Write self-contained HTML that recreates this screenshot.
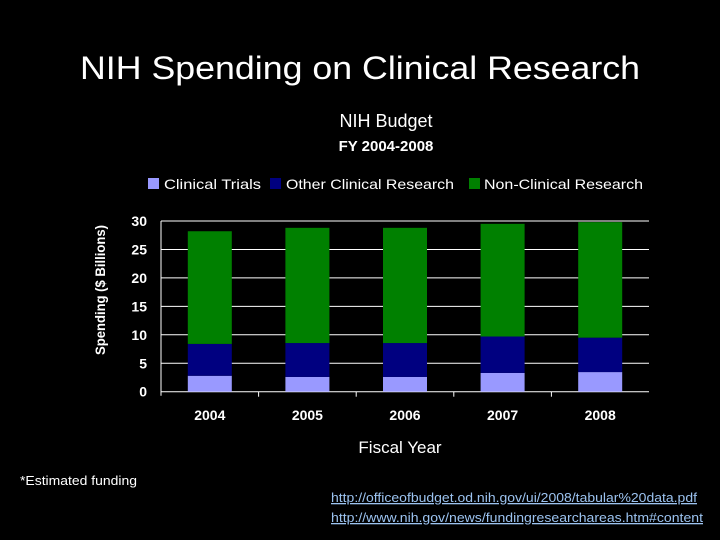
<!DOCTYPE html>
<html><head><meta charset="utf-8"><style>
html,body{margin:0;background:#000;width:720px;height:540px;overflow:hidden;font-family:"Liberation Sans",Arial,sans-serif;color:#fff}
svg{display:block}
</style></head><body>
<svg width="720" height="540" viewBox="0 0 720 540">
<text x="360" y="79" text-anchor="middle" font-size="32" textLength="560" lengthAdjust="spacingAndGlyphs" fill="#fff">NIH Spending on Clinical Research</text>
<text x="386" y="127" text-anchor="middle" font-size="18" fill="#fff">NIH Budget</text>
<text x="386" y="151" text-anchor="middle" font-size="15" font-weight="bold" fill="#fff">FY 2004-2008</text>
<g>
<rect x="148" y="178" width="11" height="11" fill="#9999ff"/>
<text x="164" y="189" font-size="14" textLength="97" lengthAdjust="spacingAndGlyphs" fill="#fff">Clinical Trials</text>
<rect x="270" y="178" width="11" height="11" fill="#000080"/>
<text x="286" y="189" font-size="14" textLength="168" lengthAdjust="spacingAndGlyphs" fill="#fff">Other Clinical Research</text>
<rect x="469" y="178" width="11" height="11" fill="#008000"/>
<text x="484" y="189" font-size="14" textLength="159" lengthAdjust="spacingAndGlyphs" fill="#fff">Non-Clinical Research</text>
</g>
<g id="plot"></g>
<text transform="translate(105,290) rotate(-90)" text-anchor="middle" font-size="14" font-weight="bold" textLength="130" lengthAdjust="spacingAndGlyphs" fill="#fff">Spending ($ Billions)</text>
<text x="400" y="453" text-anchor="middle" font-size="17" fill="#fff">Fiscal Year</text>
<text x="20" y="485" font-size="13" textLength="117" lengthAdjust="spacingAndGlyphs" fill="#fff">*Estimated funding</text>
<text x="331" y="502" font-size="13" textLength="366" lengthAdjust="spacingAndGlyphs" fill="#9cc3f0" text-decoration="underline">http://officeofbudget.od.nih.gov/ui/2008/tabular%20data.pdf</text>
<text x="331" y="522" font-size="13" textLength="372" lengthAdjust="spacingAndGlyphs" fill="#9cc3f0" text-decoration="underline">http://www.nih.gov/news/fundingresearchareas.htm#content</text>
</svg>
<script>
const categories=["2004","2005","2006","2007","2008"];
const clinicalTrials=[2.8,2.6,2.6,3.3,3.45];
const otherClinical=[5.6,5.95,5.95,6.4,6.05];
const nonClinical=[19.8,20.25,20.25,19.8,20.3];
const yTicks=[0,5,10,15,20,25,30];
const NS="http://www.w3.org/2000/svg";
const g=document.getElementById('plot');
const L=161,R=649,T=221,B=391.7,YMAX=30;
const y=v=>B-(v/YMAX)*(B-T);
const bw=(R-L)/categories.length;
const xc=i=>L+bw*(i+0.5);
function mk(t,a){const e=document.createElementNS(NS,t);for(const k in a)e.setAttribute(k,a[k]);g.appendChild(e);return e;}
yTicks.forEach(v=>{
 const l=mk('line',{x1:L,x2:R,y1:y(v),y2:y(v),stroke:'#fff','stroke-width':1});
 
 
 const t=mk('text',{x:L-14,y:y(v)+5,'text-anchor':'end','font-size':14,'font-weight':'bold',fill:'#fff'});
 t.textContent=v;
 
 
});
const ax=mk('line',{x1:L,x2:L,y1:T,y2:B+4,stroke:'#fff'});


for(let i=1;i<categories.length;i++){
 const tk=mk('line',{x1:L+bw*i,x2:L+bw*i,y1:B,y2:B+5,stroke:'#fff'});
 
 
}
const series=[[clinicalTrials,'#9999ff','clinical-trials'],[otherClinical,'#000080','other-clinical'],[nonClinical,'#008000','non-clinical']];
categories.forEach((c,i)=>{
 let base=0;
 series.forEach(([arr,col,nm])=>{
  const top=base+arr[i];
  const r=mk('rect',{x:xc(i)-22,width:44,y:y(top),height:y(base)-y(top),fill:col});
  
  
  base=top;
 });
 const t=mk('text',{x:xc(i),y:420,'text-anchor':'middle','font-size':14,'font-weight':'bold',fill:'#fff'});
 t.textContent=c;
 
 
});
</script>
</body></html>
